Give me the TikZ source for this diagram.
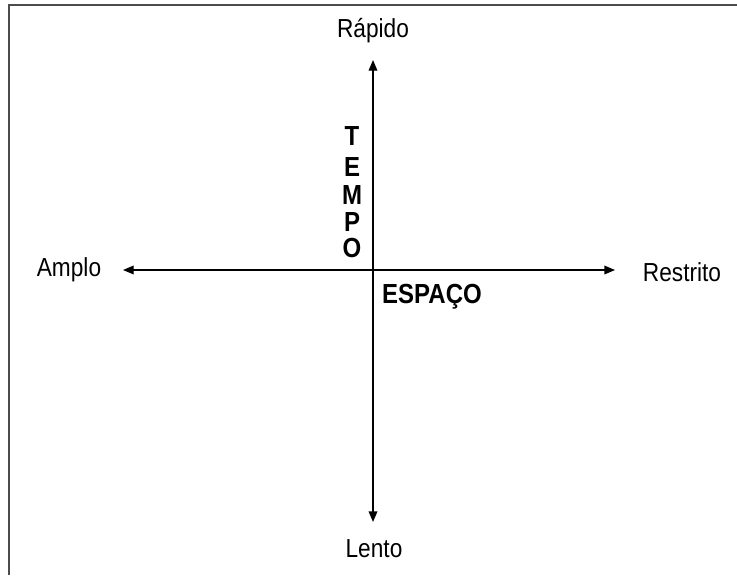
\documentclass[tikz,border=0pt]{standalone}
\usepackage{fontspec}
\usepackage{graphicx}
\setmainfont{Liberation Sans}
\usetikzlibrary{arrows.meta}
\newcommand{\tallbox}[1]{\scalebox{1}[1.15]{#1}}
\begin{document}
\begin{tikzpicture}[x=0.75pt,y=-0.75pt,
  axis/.style={line width=1pt,{Triangle[length=8pt,width=6.5pt]}-{Triangle[length=8pt,width=6.5pt]}},
  lbl/.style={font=\fontsize{17}{20}\selectfont,inner sep=0pt},
  blbl/.style={font=\fontsize{18}{20}\selectfont\bfseries,inner sep=0pt},
  frame/.style={line width=1.5pt,draw=black!70}]
\useasboundingbox (0,0) rectangle (737,575);
\fill[white] (0,0) rectangle (737,575);
\coordinate (ftl) at (9,5);
\coordinate (ftr) at (737,5);
\coordinate (fbl) at (9,575);
\draw[frame] (fbl) -- (ftl) -- (ftr);
\coordinate (top) at (373,60);
\coordinate (bot) at (373,522);
\coordinate (lft) at (123,270);
\coordinate (rgt) at (615,270);
\draw[axis] (top) -- (bot);
\draw[axis] (lft) -- (rgt);
\node[lbl] (rapido) at (373,31) {\tallbox{Rápido}};
\node[lbl] (lento) at (374,549) {\tallbox{Lento}};
\node[lbl] (amplo) at (69,270) {\tallbox{Amplo}};
\node[lbl] (restrito) at (682,272) {\tallbox{Restrito}};
\node[blbl] (espaco) at (432,297) {\tallbox{ESPAÇO}};
\node[blbl] (t) at (352,136) {\tallbox{T}};
\node[blbl] (e) at (352,167) {\tallbox{E}};
\node[blbl] (m) at (352,195) {\tallbox{M}};
\node[blbl] (p) at (352,222) {\tallbox{P}};
\node[blbl] (o) at (352,248) {\tallbox{O}};
\end{tikzpicture}
\end{document}
